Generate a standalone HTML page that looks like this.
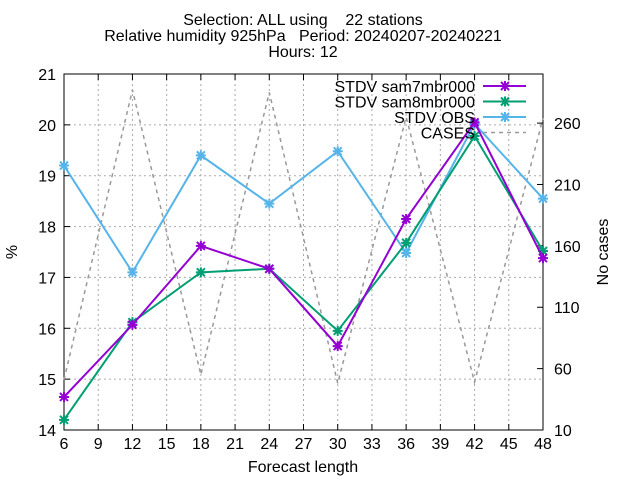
<!DOCTYPE html>
<html><head><meta charset="utf-8"><style>
body{margin:0;background:#fff}
svg{font-family:"Liberation Sans",sans-serif;font-size:16px}
text{white-space:pre}
</style></head><body>
<svg width="640" height="480">
<g id="grid"></g><g id="axes"></g><g id="series"></g><g id="legend"></g>
<text x="303" y="25" text-anchor="middle">Selection: ALL using    22 stations</text>
<text x="303" y="41" text-anchor="middle">Relative humidity 925hPa   Period: 20240207-20240221</text>
<text x="303" y="57" text-anchor="middle">Hours: 12</text>
<text x="303" y="472" text-anchor="middle">Forecast length</text>
<text transform="translate(17,252) rotate(-90)" text-anchor="middle">%</text>
<text transform="translate(608,252) rotate(-90)" text-anchor="middle">No cases</text>
</svg>
<script>
const leadTimes=[6,12,18,24,30,36,42,48];
const sam7=[14.65,16.07,17.62,17.17,15.65,18.15,20.05,17.38];
const sam8=[14.2,16.12,17.1,17.17,15.95,17.68,19.78,17.52];
const obs=[19.2,17.1,19.4,18.45,19.48,17.48,20.02,18.55];
const cases=[51,287,55,285,48,265,49,264];
const xTicks=[6,9,12,15,18,21,24,27,30,33,36,39,42,45,48];
const yTicks=[14,15,16,17,18,19,20,21];
const y2Ticks=[10,60,110,160,210,260];
const L=64,R=543,T=74,B=430;
const xs=v=>L+(v-6)/42*(R-L);
const ys=v=>B-(v-14)/7*(B-T);
const y2s=v=>B-(v-10)/290*(B-T);
const NS="http://www.w3.org/2000/svg";
function mk(p,tag,attrs){const e=document.createElementNS(NS,tag);for(const k in attrs)e.setAttribute(k,attrs[k]);p.appendChild(e);return e;}
const grid=document.getElementById('grid'),axes=document.getElementById('axes'),ser=document.getElementById('series'),leg=document.getElementById('legend');
xTicks.forEach(t=>{const x=xs(t);
 if(t>6&&t<48){const g=mk(grid,'line',{x1:x,x2:x,y1:T,y2:B,stroke:'#aaa','stroke-dasharray':'2,3','stroke-width':1});
 }
 mk(axes,'line',{x1:x,x2:x,y1:B,y2:B-6,stroke:'#000'});mk(axes,'line',{x1:x,x2:x,y1:T,y2:T+6,stroke:'#000'});
 const tx=mk(axes,'text',{x:x,y:B+19,'text-anchor':'middle'});tx.textContent=t;
 });
yTicks.forEach(t=>{const y=ys(t);
 if(t>14&&t<21){const g=mk(grid,'line',{x1:L,x2:R,y1:y,y2:y,stroke:'#aaa','stroke-dasharray':'2,3'});
 }
 mk(axes,'line',{x1:L,x2:L+6,y1:y,y2:y,stroke:'#000'});
 const tx=mk(axes,'text',{x:L-8,y:y+6,'text-anchor':'end'});tx.textContent=t;
 });
y2Ticks.forEach(t=>{const y=y2s(t);
 mk(axes,'line',{x1:R,x2:R-6,y1:y,y2:y,stroke:'#000'});
 const tx=mk(axes,'text',{x:R+11,y:y+6});tx.textContent=t;
 });
const fr=mk(axes,'rect',{x:L,y:T,width:R-L,height:B-T,fill:'none',stroke:'#000'});

function star(g,x,y,c){mk(g,'path',{d:`M${x-4},${y-4}L${x+4},${y+4}M${x-4},${y+4}L${x+4},${y-4}M${x-5},${y}L${x+5},${y}M${x},${y-5}L${x},${y+5}`,stroke:c,'stroke-width':2});}
function series(vals,sc,c,name,dash){
 const g=mk(ser,'g',{});
 const pts=vals.map((v,i)=>xs(leadTimes[i])+','+sc(v)).join(' ');
 mk(g,'polyline',{points:pts,fill:'none',stroke:c,'stroke-width':dash?1.5:2,'stroke-dasharray':dash?'4,4':'none'});
 if(!dash)vals.forEach((v,i)=>star(g,xs(leadTimes[i]),sc(v),c));}
series(cases,y2s,'#999','cases-line',true);
series(obs,ys,'#56b4e9','obs-line');
series(sam8,ys,'#009e73','sam8-line');
series(sam7,ys,'#9400d3','sam7-line');
const items=[['STDV sam7mbr000','#9400d3',0],['STDV sam8mbr000','#009e73',0],['STDV OBS','#56b4e9',0],['CASES','#999',1]];
items.forEach((it,i)=>{const y=86+i*15.5;const g=mk(leg,'g',{});
 
 const t=mk(g,'text',{x:475,y:y+6,'text-anchor':'end'});t.textContent=it[0];
 mk(g,'line',{x1:483,x2:526,y1:y,y2:y,stroke:it[1],'stroke-width':it[2]?1.5:2,'stroke-dasharray':it[2]?'4,4':'none'});
 if(!it[2])star(g,505,y,it[1]);});
</script>
</body></html>
